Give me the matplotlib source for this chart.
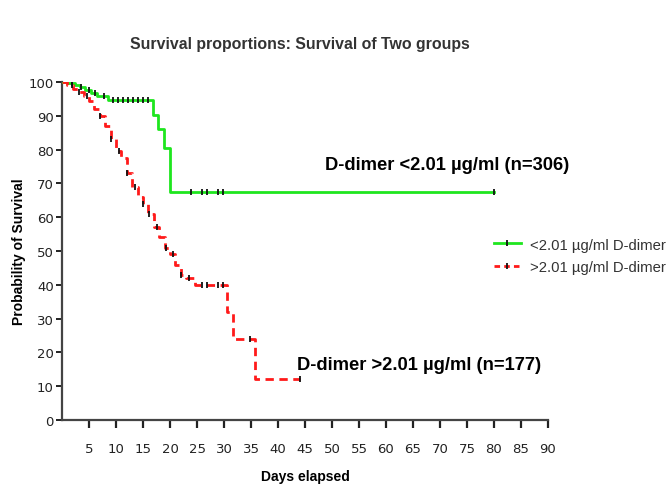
import numpy as np
import matplotlib
matplotlib.use("Agg")
import matplotlib.pyplot as plt
from matplotlib.lines import Line2D

# Kaplan-Meier steps (day, survival % after the step)
times_g = [0, 1.0, 2.4, 3.3, 4.2, 5.4, 6.5, 8.6, 16.9, 17.8, 18.9, 20.0, 80]
surv_g = [100, 99.6, 99.2, 98.5, 97.5, 96.7, 95.8, 94.8, 90.3, 86.0, 80.6, 67.5, 67.5]
cens_g = [1.8, 3.6, 5.0, 6.2, 7.8, 9.4, 10.4, 11.3, 12.2, 13.2, 14.1, 15.0, 15.9,
          23.8, 25.9, 26.9, 28.8, 29.9, 80]

times_r = [0, 1, 2, 3, 4, 5, 6, 7, 8, 9, 10, 11, 12, 13, 14, 15, 16, 17, 18, 19,
           20, 21, 22, 23, 24.6, 30.5, 31.7, 35.7, 44]
surv_r = [100, 99, 98, 97, 96, 94.5, 92, 90, 87, 83, 79.5, 77.5, 73, 69, 66, 64,
          61, 57, 54, 51, 49, 46, 43, 42, 40, 32, 24, 12, 12]
cens_r = [1.8, 3.2, 4.6, 7.0, 9.0, 10.6, 12.0, 13.5, 15.0, 16.2, 17.5, 19.2,
          20.6, 22.0, 23.5, 25.9, 26.8, 28.9, 29.9, 34.8, 44]

xticks = list(range(5, 95, 5))
yticks = list(range(0, 110, 10))

title = "Survival proportions: Survival of Two groups"
label_g = "<2.01 µg/ml D-dimer"
label_r = ">2.01 µg/ml D-dimer"
note_g = "D-dimer <2.01 µg/ml (n=306)"
note_r = "D-dimer >2.01 µg/ml (n=177)"

GREEN = "#1ee61e"
RED = "#ff1a1a"


def step_val(ts, ss, t):
    i = np.searchsorted(ts, t, side="right") - 1
    return ss[max(i, 0)]


fig = plt.figure(figsize=(6.7, 4.89), dpi=100)
ax = fig.add_axes([62 / 670, 1 - 421 / 489, (548 - 62) / 670, (421 - 83) / 489])

ax.step(times_g, surv_g, where="post", color=GREEN, lw=2.0, zorder=3)
ax.step(times_r, surv_r, where="post", color=RED, lw=2.0,
        linestyle=(0, (3.0, 2.0)), zorder=3)

ax.plot(cens_g, [step_val(times_g, surv_g, t) for t in cens_g], ls="none",
        marker="|", ms=4, mew=1.3, color="#111111", zorder=4)
ax.plot(cens_r, [step_val(times_r, surv_r, t) for t in cens_r], ls="none",
        marker="|", ms=4, mew=1.3, color="#111111", zorder=4)

ax.set_xlim(0, 90)
ax.set_ylim(0, 100)
ax.spines["top"].set_visible(False)
ax.spines["right"].set_visible(False)
for s in ("left", "bottom"):
    ax.spines[s].set_linewidth(1.6)
    ax.spines[s].set_color("#444444")

tickfont = ["Liberation Sans Narrow", "DejaVu Sans"]
ax.set_xticks(xticks)
ax.set_yticks(yticks)
ax.set_xticklabels([str(v) for v in xticks], fontsize=9.5, family=tickfont)
ax.set_yticklabels([str(v) for v in yticks], fontsize=9.5, family=tickfont)
ax.tick_params(axis="x", length=6, width=1.6, pad=10, colors="#222222")
ax.tick_params(axis="y", length=4, width=1.4, pad=2, colors="#222222")

ax.set_xlabel("Days elapsed", fontsize=10, fontweight="bold", labelpad=10,
              family=["Liberation Sans", "DejaVu Sans"])
ax.set_ylabel("Probability of Survival", fontsize=10, fontweight="bold",
              labelpad=2, family=["Liberation Sans", "DejaVu Sans"])

fig.text(300 / 670, 1 - 45 / 489, title, ha="center", va="center",
         fontsize=11.4, fontweight="bold", color="#333333",
         family=["Liberation Sans", "DejaVu Sans"])

ax.text(48.7, 75.5, note_g, fontsize=13.2, fontweight="bold", ha="left",
        va="center", family=["Liberation Sans", "DejaVu Sans"])
ax.text(43.5, 16.5, note_r, fontsize=13.2, fontweight="bold", ha="left",
        va="center", family=["Liberation Sans", "DejaVu Sans"])

h_g = Line2D([], [], color=GREEN, lw=2, marker="|", ms=4, mew=1.3,
             markeredgecolor="#111111")
h_r = Line2D([], [], color=RED, lw=2, linestyle=(0, (2, 1.5)), marker="|",
             ms=4, mew=1.3, markeredgecolor="#111111")
fig.legend([h_g, h_r], [label_g, label_r], loc="center left",
           bbox_to_anchor=(485 / 670, 1 - 257 / 489), frameon=False,
           prop={"family": ["Liberation Sans", "DejaVu Sans"], "size": 10.7},
           handlelength=1.8, handletextpad=0.6, labelspacing=0.6,
           borderaxespad=0.2, labelcolor="#333333")

fig.savefig("out.png", dpi=100)
